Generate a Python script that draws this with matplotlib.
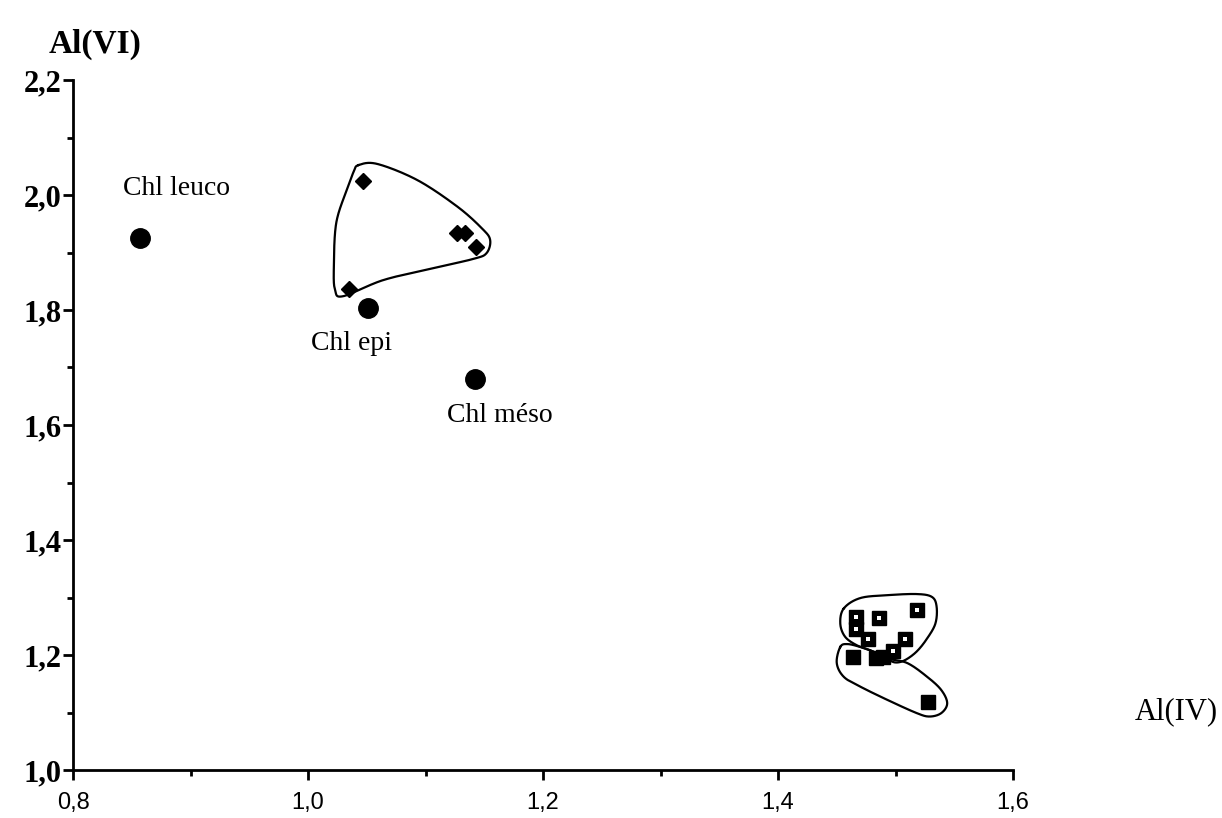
import numpy as np
import matplotlib
matplotlib.use("Agg")
import matplotlib.pyplot as plt
from matplotlib.ticker import MultipleLocator

# reference chlorites (filled circles)
ref_names = ["Chl leuco", "Chl epi", "Chl méso"]
ref_x = [0.857, 1.051, 1.142]
ref_y = [1.925, 1.804, 1.680]
ref_label_x = [0.888, 1.037, 1.163]
ref_label_y = [2.012, 1.741, 1.616]

# diamonds
dia_x = [1.047, 1.127, 1.134, 1.143, 1.035]
dia_y = [2.025, 1.934, 1.934, 1.910, 1.837]

# squares with white centre
sq_open_x = [1.518, 1.466, 1.466, 1.486, 1.477, 1.508, 1.498]
sq_open_y = [1.279, 1.266, 1.246, 1.264, 1.227, 1.227, 1.207]

# plain filled squares
sq_fill_x = [1.464, 1.483, 1.489, 1.528]
sq_fill_y = [1.196, 1.195, 1.196, 1.119]

# hand-drawn envelopes
env_dia_x = [1.043, 1.059, 1.093, 1.127, 1.148, 1.155, 1.152, 1.141, 1.107, 1.064, 1.030, 1.023, 1.022, 1.024, 1.033, 1.039]
env_dia_y = [2.052, 2.054, 2.026, 1.980, 1.942, 1.922, 1.899, 1.889, 1.873, 1.852, 1.824, 1.835, 1.875, 1.951, 2.009, 2.041]

env_up_x = [1.456, 1.470, 1.493, 1.518, 1.531, 1.535, 1.534, 1.527, 1.518, 1.508, 1.500, 1.493, 1.481, 1.467, 1.457, 1.453]
env_up_y = [1.281, 1.299, 1.304, 1.306, 1.301, 1.284, 1.255, 1.229, 1.206, 1.191, 1.187, 1.193, 1.206, 1.217, 1.232, 1.255]

env_lo_x = [1.453, 1.459, 1.470, 1.481, 1.493, 1.510, 1.527, 1.539, 1.544, 1.539, 1.529, 1.518, 1.493, 1.470, 1.456, 1.450]
env_lo_y = [1.214, 1.219, 1.214, 1.206, 1.194, 1.186, 1.162, 1.139, 1.116, 1.099, 1.093, 1.099, 1.122, 1.145, 1.162, 1.186]


def closed_curve(xs, ys, n=30):
    # Catmull-Rom through the envelope points, closed
    p = np.column_stack([xs, ys])
    k = len(p)
    out = []
    for i in range(k):
        p0, p1, p2, p3 = p[i - 1], p[i], p[(i + 1) % k], p[(i + 2) % k]
        t = np.linspace(0, 1, n, endpoint=False)[:, None]
        seg = 0.5 * ((2 * p1) + (-p0 + p2) * t
                     + (2 * p0 - 5 * p1 + 4 * p2 - p3) * t ** 2
                     + (-p0 + 3 * p1 - 3 * p2 + p3) * t ** 3)
        out.append(seg)
    out = np.vstack(out + [p[:1]])
    return out[:, 0], out[:, 1]


fig = plt.figure(figsize=(12.22, 8.18), dpi=100)
ax = fig.add_axes([73 / 1222, 1 - 770 / 818, 940 / 1222, 690 / 818])

ax.set_xlim(0.8, 1.6)
ax.set_ylim(1.0, 2.2)

for s in ["top", "right"]:
    ax.spines[s].set_visible(False)
for s in ["left", "bottom"]:
    ax.spines[s].set_linewidth(2)

ax.xaxis.set_major_locator(MultipleLocator(0.2))
ax.xaxis.set_minor_locator(MultipleLocator(0.1))
ax.yaxis.set_major_locator(MultipleLocator(0.2))
ax.yaxis.set_minor_locator(MultipleLocator(0.1))
ax.tick_params(which="major", direction="out", length=7, width=2)
ax.tick_params(which="minor", direction="out", length=4, width=2)
ax.tick_params(axis="x", pad=9)
ax.tick_params(axis="y", pad=1)

xt = [0.8, 1.0, 1.2, 1.4, 1.6]
yt = [1.0, 1.2, 1.4, 1.6, 1.8, 2.0, 2.2]
ax.set_xticks(xt)
ax.set_xticklabels([f"{v:.1f}".replace(".", ",") for v in xt],
                   family="Liberation Sans", fontsize=17)
ax.set_yticks(yt)
ax.set_yticklabels([f"{v:.1f}".replace(".", ",") for v in yt],
                   family="Liberation Serif", fontweight="bold", fontsize=22)

# envelopes
for ex, ey in [(env_dia_x, env_dia_y), (env_up_x, env_up_y), (env_lo_x, env_lo_y)]:
    cx, cy = closed_curve(ex, ey)
    ax.plot(cx, cy, color="black", lw=1.6, solid_joinstyle="round")

ax.plot(ref_x, ref_y, "o", color="black", ms=14, clip_on=False)
ax.plot(dia_x, dia_y, "D", color="black", ms=8.5)
ax.plot(sq_fill_x, sq_fill_y, "s", color="black", ms=10)
ax.plot(sq_open_x, sq_open_y, "s", color="black", ms=10)
ax.plot(sq_open_x, sq_open_y, "s", color="white", ms=2.5, mew=0)

for name, lx, ly in zip(ref_names, ref_label_x, ref_label_y):
    ax.text(lx, ly, name, ha="center", va="center",
            family="Liberation Serif", fontsize=20)

fig.text(95 / 1222, 1 - 44 / 818, "Al(VI)", ha="center", va="center",
         family="Liberation Serif", fontweight="bold", fontsize=24)
fig.text(1176 / 1222, 1 - 712 / 818, "Al(IV)", ha="center", va="center",
         family="Liberation Serif", fontsize=22)

fig.savefig("out.png", dpi=100, facecolor="white")
